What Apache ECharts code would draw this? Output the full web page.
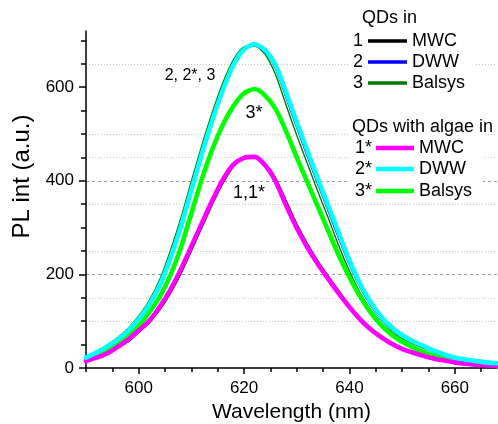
<!DOCTYPE html>
<html><head><meta charset="utf-8">
<script src="https://cdn.jsdelivr.net/npm/echarts@6/dist/echarts.min.js"></script>
<style>html,body{margin:0;padding:0;background:#fff}#c{width:498px;height:424px}</style>
</head><body><div id="c"></div>
<script>
const wavelength = [590,592,594,596,598,600,602,604,606,608,610,612,614,616,618,620,622,624,626,628,630,632,634,636,638,640,642,644,646,648,650,652,654,656,658,660,662,664,666,668];
// 1 : QDs in MWC
const mwc = [14,20,28,42,56,76,96,124,159,201,250,300,350,395,430,447,451,437,406,357,308,266,229,196,165,135,108,86,69,54,43,34,27,21,16,12,9,7,6,5];
// 2 : QDs in DWW
const dww = [21,32,45,60,79,102,133,174,230,298,376,455,527,592,645,679,689,675,638,576,513,452,392,334,275,220,172,134,104,82,67,55,45,35,28,21,17,14,12,10];
// 3 : QDs in Balsys
const balsys = [24,36,49,65,85,111,144,189,250,320,399,476,547,610,659,686,688,670,626,561,497,437,377,320,260,207,161,125,97,77,63,52,42,33,25,19,16,13,11,9];
// 1* : QDs with algae in MWC
const mwcAlgae = [15,22,31,45,61,80,101,131,167,211,260,310,359,403,435,449,451,433,398,347,299,258,222,190,159,130,104,83,66,52,41,33,26,20,16,12,9,7,6,5];
// 2* : QDs with algae in DWW
const dwwAlgae = [22,33,46,61,80,104,135,177,234,302,380,458,530,595,648,681,692,679,647,588,525,464,404,346,287,230,180,141,110,87,70,57,47,37,29,22,18,15,12,10];
// 3* : QDs with algae in Balsys
const balsysAlgae = [18,26,36,50,68,90,119,152,198,257,331,404,468,520,560,587,596,582,553,505,450,397,345,292,240,194,153,119,92,71,56,44,34,26,20,14,11,9,7,6];

const xTickLabels = [600,620,640,660];
const xMinorTicks = [590,595,605,610,615,625,630,635,645,650,655,665];
const yTickLabels = [0,200,400,600];
const yMinorTicks = [50,100,150,250,300,350,450,500,550,650,700];

const legendTitles = ['QDs in','QDs with algae in'];
const legendNums = ['1','2','3','1*','2*','3*'];
const legendNames = ['MWC','DWW','Balsys','MWC','DWW','Balsys'];
const annotationTexts = ['2, 2*, 3','3*','1,1*'];

// drawing order: thin lines underneath, thick lines on top
const seriesList = [mwc, dww, balsys, balsysAlgae, mwcAlgae, dwwAlgae];
const seriesColors = ['#000000','#0000ff','#007a00','#00ff00','#ff00ff','#00ffff'];
const seriesWidths = [1.4,1.4,1.4,4.6,4.6,4.6];

const FONT = 'Liberation Sans, Arial, sans-serif';
const chart = echarts.init(document.getElementById('c'), null, {renderer:'canvas'});

const series = seriesList.map((vals, k) => ({
  type:'line',
  data: wavelength.map((w,i)=>[w, vals[i]]),
  showSymbol:false,
  smooth:0.25,
  lineStyle:{color:seriesColors[k], width:seriesWidths[k], join:'round', cap:'round'},
  z: 2 + k,
  silent:true
}));

const graphic = [];
graphic.push({type:'rect', shape:{x:348,y:4,width:126,height:93}, style:{fill:'#fff'}, z:100});
graphic.push({type:'rect', shape:{x:348,y:104,width:135,height:97}, style:{fill:'#fff'}, z:100});
graphic.push({type:'text', x:362, y:18, style:{text:legendTitles[0], font:'18px '+FONT, fill:'#000', textAlign:'left', textVerticalAlign:'middle'}, z:101});
graphic.push({type:'text', x:352, y:127, style:{text:legendTitles[1], font:'18px '+FONT, fill:'#000', textAlign:'left', textVerticalAlign:'middle'}, z:101});
const legColors = ['#000000','#0000ff','#007a00','#ff00ff','#00ffff','#00ff00'];
const rowY = [41,62,83,148,169,191];
for (let i=0;i<6;i++){
  const algae = i>=3;
  const numX = algae ? 372 : 363;
  const lx1 = algae ? 376 : 368, lx2 = algae ? 414 : 407;
  const nameX = algae ? 419 : 412;
  graphic.push({type:'text', x:numX, y:rowY[i], style:{text:legendNums[i], font:'18px '+FONT, fill:'#000', textAlign:'right', textVerticalAlign:'middle'}, z:101});
  graphic.push({type:'line', shape:{x1:lx1,y1:rowY[i],x2:lx2,y2:rowY[i]}, style:{stroke:legColors[i], lineWidth: algae?4.6:3.5}, z:101});
  graphic.push({type:'text', x:nameX, y:rowY[i], style:{text:legendNames[i], font:'18px '+FONT, fill:'#000', textAlign:'left', textVerticalAlign:'middle'}, z:101});
}
graphic.push({type:'text', x:190, y:76, style:{text:annotationTexts[0], font:'16px '+FONT, fill:'#000', textAlign:'center', textVerticalAlign:'middle'}, z:101});
graphic.push({type:'text', x:254, y:113, style:{text:annotationTexts[1], font:'18px '+FONT, fill:'#000', textAlign:'center', textVerticalAlign:'middle'}, z:101});
graphic.push({type:'text', x:249, y:193, style:{text:annotationTexts[2], font:'18px '+FONT, fill:'#000', textAlign:'center', textVerticalAlign:'middle'}, z:101});

const axisLineStyle = {color:'#000', width:1.5};
chart.setOption({
  animation:false,
  backgroundColor:'#fff',
  grid:{left:86, right:1, top:31, bottom:56, containLabel:false, outerBoundsMode:'none'},
  xAxis:[
    {type:'value', min:590, max:668, position:'bottom',
     axisLine:{show:true, onZero:false, lineStyle:axisLineStyle},
     axisTick:{show:true, length:6, customValues:xTickLabels, lineStyle:axisLineStyle},
     axisLabel:{customValues:xTickLabels, color:'#000', fontSize:17, fontFamily:FONT, margin:12},
     splitLine:{show:false},
     name:'Wavelength (nm)', nameLocation:'middle', nameGap:32,
     nameTextStyle:{color:'#000', fontSize:21, fontFamily:FONT}},
    {type:'value', min:590, max:668, position:'bottom',
     axisLine:{show:false, onZero:false},
     axisTick:{show:true, length:4, customValues:xMinorTicks, lineStyle:axisLineStyle},
     axisLabel:{show:false}, splitLine:{show:false}}
  ],
  yAxis:[
    {type:'value', min:0, max:720, interval:200, position:'left',
     axisLine:{show:true, onZero:false, lineStyle:axisLineStyle},
     axisTick:{show:true, length:7, customValues:yTickLabels, lineStyle:axisLineStyle},
     axisLabel:{customValues:yTickLabels, color:'#000', fontSize:17, fontFamily:FONT, margin:12},
     splitLine:{show:true, showMinLine:false, showMaxLine:false, lineStyle:{color:'#9a9a9a', width:1, type:[3,3]}},
     name:'PL int (a.u.)', nameLocation:'middle', nameGap:50,
     nameTextStyle:{color:'#000', fontSize:24, fontFamily:FONT, padding:[0,0,0,46]}},
    {type:'value', min:0, max:720, interval:50, position:'left',
     axisLine:{show:false, onZero:false},
     axisTick:{show:true, length:5, customValues:yMinorTicks, lineStyle:axisLineStyle},
     axisLabel:{show:false},
     splitLine:{show:true, showMaxLine:false, lineStyle:{color:['rgba(0,0,0,0)','#c4c4c4','#c4c4c4','#c4c4c4'], width:1, type:[1,2]}}}
  ],
  series: series,
  graphic: graphic
});
</script>
</body></html>
